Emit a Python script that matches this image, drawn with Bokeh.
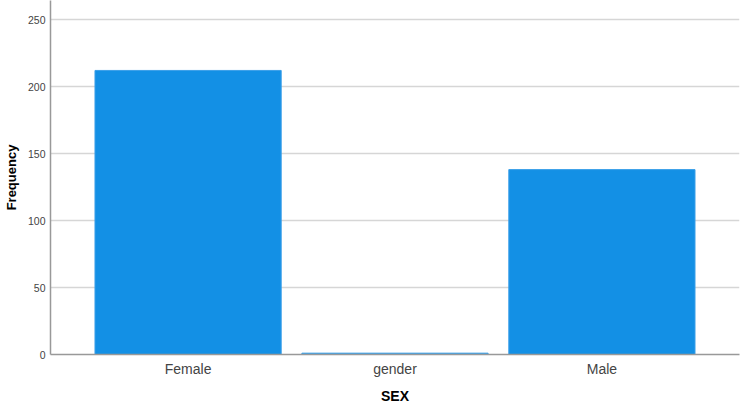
from bokeh.plotting import figure
from bokeh.models import FactorRange, Range1d, FixedTicker
from bokeh.embed import file_html
from bokeh.resources import INLINE

categories = ["Female", "gender", "Male"]
counts = [212, 1, 138]
y_ticks = [0, 50, 100, 150, 200, 250]
x_title = "SEX"
y_title = "Frequency"

FW, FH = 689, 354
p = figure(frame_width=FW, frame_height=FH, output_backend="svg", toolbar_location=None,
           x_range=FactorRange(*categories, range_padding=0.165, range_padding_units="absolute"),
           y_range=Range1d(0, 264.2),
           min_border_left=43, min_border_right=3, min_border_top=0, min_border_bottom=50)
p.outline_line_color = None
p.background_fill_color = "white"
p.border_fill_color = "white"

p.vbar(x=categories, top=counts, width=0.9, fill_color="#1390e5", line_color="#3a9fe8", line_width=1)

p.xgrid.grid_line_color = None
p.ygrid.ticker = FixedTicker(ticks=y_ticks)
p.ygrid.grid_line_color = "#d6d6d6"
p.ygrid.grid_line_width = 1.5
p.ygrid.level = "underlay"

p.yaxis.ticker = FixedTicker(ticks=y_ticks)
p.yaxis.axis_label = y_title
p.xaxis.axis_label = x_title
for ax in (p.xaxis[0], p.yaxis[0]):
    ax.axis_line_color = "#999999"
    ax.axis_line_width = 1.5
    ax.major_tick_line_color = None
    ax.minor_tick_line_color = None
    ax.major_tick_out = 0
    ax.major_tick_in = 0
    ax.minor_tick_out = 0
    ax.minor_tick_in = 0
    ax.axis_label_text_font = "Liberation Sans"
    ax.axis_label_text_font_style = "bold"
    ax.axis_label_text_color = "#000000"
    ax.major_label_text_font = "Liberation Sans"
    ax.major_label_text_color = "#444444"

p.yaxis.axis_label_text_font_size = "13px"
p.yaxis.major_label_text_font_size = "10.5px"
p.yaxis.major_label_standoff = 5
p.yaxis.axis_label_standoff = 6
p.xaxis.major_label_text_font_size = "14px"
p.xaxis.major_label_standoff = 6
p.xaxis.axis_label_text_font_size = "14px"
p.xaxis.axis_label_standoff = 8
p.xaxis.axis_label_text_line_height = 0.7
p.xaxis.major_label_text_line_height = 0.9

open("out.html", "w").write(file_html(p, INLINE))
